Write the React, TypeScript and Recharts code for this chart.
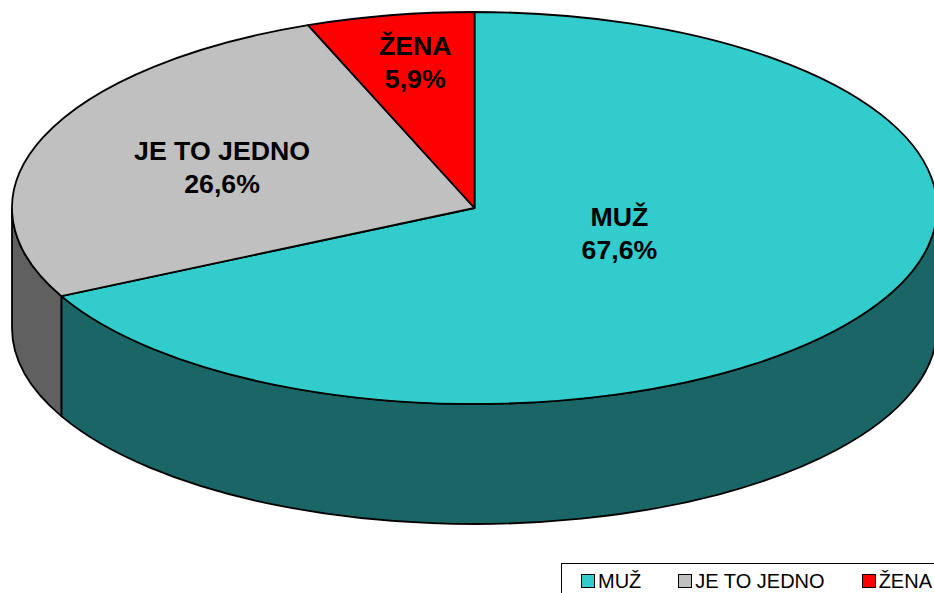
import React from "react";
import { PieChart, Pie, Cell, Legend } from "recharts";

const categories = ["MUŽ", "JE TO JEDNO", "ŽENA"];
const shares = [67.58, 26.56, 5.86];
const topColors = ["#33CCCC", "#C0C0C0", "#FF0000"];
const wallColors = ["#1A6666", "#606060", "#800000"];
// how far along the radius each label sits, horizontally and vertically
const labelReach = [
  [0.368, 0.25],
  [0.585, 0.56],
  [0.7, 0.75],
];

const rows = categories.map((name, i) => ({ name, value: shares[i] }));

const WIDTH = 934;
const HEIGHT = 593;
const RX = 462.5;
const RY = 196;
const DEPTH = 120;

const rad = (a: number) => (a * Math.PI) / 180;

function TiltedSector(props: any) {
  const { cx, cy, startAngle, endAngle, index } = props;
  const px = (a: number) => cx + RX * Math.cos(rad(a));
  const py = (a: number) => cy - RY * Math.sin(rad(a));
  const large = startAngle - endAngle > 180 ? 1 : 0;
  const top = `M${cx},${cy} L${px(startAngle)},${py(startAngle)} A${RX},${RY} 0 ${large} 1 ${px(endAngle)},${py(endAngle)} Z`;

  // only the front half of the rim shows a wall
  const hi = Math.min(startAngle, 0);
  const lo = Math.max(endAngle, -180);
  let wall = null;
  if (lo < hi) {
    const d =
      `M${px(hi)},${py(hi)} A${RX},${RY} 0 0 1 ${px(lo)},${py(lo)} ` +
      `L${px(lo)},${py(lo) + DEPTH} A${RX},${RY} 0 0 0 ${px(hi)},${py(hi) + DEPTH} Z`;
    wall = <path d={d} fill={wallColors[index]} stroke="#000" strokeWidth={1.8} />;
  }
  return (
    <g>
      {wall}
      <path d={top} fill={topColors[index]} stroke="#000" strokeWidth={1.8} strokeLinejoin="round" />
    </g>
  );
}

function SliceLabel(props: any) {
  const { cx, cy, midAngle, index } = props;
  const x = cx + RX * labelReach[index][0] * Math.cos(rad(midAngle));
  const y = cy - RY * labelReach[index][1] * Math.sin(rad(midAngle));
  return (
    <text
      x={x}
      y={y}
      textAnchor="middle"
      fontFamily="Liberation Sans"
      fontWeight="bold"
      fontSize={26.7}
      fill="#000"
    >
      <tspan x={x} dy={-8}>
        {categories[index]}
      </tspan>
      <tspan x={x} dy={33}>
        {shares[index].toFixed(1).replace(".", ",")}%
      </tspan>
    </text>
  );
}

const legendGaps = [19, 37, 37];

function LegendBox() {
  return (
    <div
      style={{
        boxSizing: "border-box",
        width: 400,
        height: 40,
        border: "1.5px solid #000",
        display: "flex",
        alignItems: "flex-start",
        fontFamily: "Liberation Sans",
        fontSize: 20,
        lineHeight: "20px",
        color: "#000",
        paddingTop: 7,
      }}
    >
      {categories.map((name, i) => (
        <span key={name} style={{ display: "flex", alignItems: "center", marginLeft: legendGaps[i], whiteSpace: "nowrap" }}>
          <span
            style={{
              boxSizing: "border-box",
              width: 14,
              height: 14,
              border: "1.5px solid #000",
              background: topColors[i],
              marginRight: 3,
            }}
          />
          {name}
        </span>
      ))}
    </div>
  );
}

export default function App() {
  return (
    <div style={{ position: "fixed", left: 0, top: 0, width: WIDTH, height: HEIGHT, overflow: "hidden", background: "#fff" }}>
      <PieChart width={WIDTH} height={HEIGHT} margin={{ top: 0, right: 0, bottom: 0, left: 0 }}>
        <Pie
          data={rows}
          dataKey="value"
          nameKey="name"
          cx={474.5}
          cy={208}
          outerRadius={RX}
          startAngle={90}
          endAngle={-270}
          stroke="#000"
          shape={TiltedSector}
          label={SliceLabel}
          labelLine={false}
          isAnimationActive={false}
        >
          {rows.map((r, i) => (
            <Cell key={r.name} fill={topColors[i]} />
          ))}
        </Pie>
        <Legend content={LegendBox} wrapperStyle={{ left: 561, top: 563, width: 400 }} />
      </PieChart>
    </div>
  );
}
